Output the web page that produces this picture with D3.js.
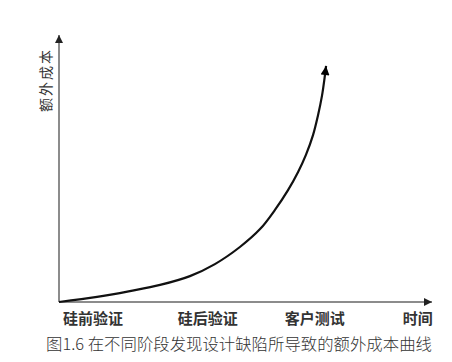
<!DOCTYPE html>
<html>
<head>
<meta charset="utf-8">
<script src="https://cdn.jsdelivr.net/npm/d3@7"></script>
<style>
  body { margin: 0; background: #fff; }
  svg { display: block; }
</style>
</head>
<body>
<svg></svg>
<script>
// 曲线数据 (时间, 额外成本), 单位 0-100
const timeVals = [0, 10.2, 19.0, 27.1, 35.1, 41.8, 48.5, 53.9, 57.9, 61.4, 64.1, 66.2, 68.1, 69.4, 70.5, 71.2, 71.6];
const costVals = [0, 1.9, 4.1, 6.4, 9.7, 14.2, 20.6, 27.3, 34.5, 41.9, 48.7, 55.1, 62.5, 69.7, 77.2, 83.9, 88.4];
const stageLabels = ["硅前验证", "硅后验证", "客户测试", "时间"];
const stagePos = [9.1, 39.9, 68.6, 96.2];
const yLabel = "额外成本";
const caption = "图1.6 在不同阶段发现设计缺陷所导致的额外成本曲线";

const width = 452;
const height = 362;
const margin = {top: 35, right: 20, bottom: 60, left: 59};

const svg = d3.select("svg")
              .attr("width", width)
              .attr("height", height);

const x = d3.scaleLinear()
            .domain([0, 100])
            .range([margin.left, width - margin.right]);

const y = d3.scaleLinear()
            .domain([0, 100])
            .range([height - margin.bottom, margin.top]);

const defs = svg.append("defs");
function marker(id, color, w, h) {
  defs.append("marker")
      .attr("id", id)
      .attr("viewBox", "0 0 10 10")
      .attr("refX", 10)
      .attr("refY", 5)
      .attr("markerWidth", w)
      .attr("markerHeight", h)
      .attr("markerUnits", "userSpaceOnUse")
      .attr("orient", "auto")
      .append("path")
      .attr("d", "M0,0 L10,5 L0,10 Z")
      .attr("fill", color);
}
marker("arrAxis", "#222", 12, 8);
marker("arrCurve", "#000", 11, 9);

// 坐标轴
svg.append("line")
   .attr("x1", x(0)).attr("y1", y(0))
   .attr("x2", x(0)).attr("y2", y(100))
   .attr("stroke", "#666")
   .attr("stroke-width", 1.5)
   .attr("marker-end", "url(#arrAxis)");

svg.append("line")
   .attr("x1", x(0)).attr("y1", y(0))
   .attr("x2", x(100)).attr("y2", y(0))
   .attr("stroke", "#666")
   .attr("stroke-width", 1.5)
   .attr("marker-end", "url(#arrAxis)");

// 曲线
const pts = timeVals.map((t, i) => [t, costVals[i]]);
const line = d3.line()
               .x(d => x(d[0]))
               .y(d => y(d[1]))
               .curve(d3.curveCatmullRom.alpha(0.5));

svg.append("path")
   .datum(pts)
   .attr("d", line)
   .attr("fill", "none")
   .attr("stroke", "#111")
   .attr("stroke-width", 2.2)
   .attr("marker-end", "url(#arrCurve)");

// 阶段标签
svg.append("g")
   .selectAll("text")
   .data(stageLabels)
   .enter()
   .append("text")
   .attr("x", (d, i) => x(stagePos[i]))
   .attr("y", y(0) + 22)
   .attr("text-anchor", "middle")
   .style("font-family", "'Noto Sans CJK SC', sans-serif")
   .style("font-size", "15px")
   .style("font-weight", "bold")
   .style("fill", "#333")
   .text(d => d);

// 纵轴标签
svg.append("text")
   .attr("transform", "translate(" + 51 + "," + 80 + ") rotate(-90)")
   .attr("text-anchor", "middle")
   .style("font-family", "'Noto Sans CJK SC', sans-serif")
   .style("font-size", "14px")
   .style("letter-spacing", "2px")
   .style("fill", "#333")
   .text(yLabel);

// 图注
svg.append("text")
   .attr("x", 239)
   .attr("y", 350)
   .attr("text-anchor", "middle")
   .style("font-family", "'Noto Sans CJK SC', sans-serif")
   .style("font-size", "16.4px")
   .style("font-weight", "300")
   .style("fill", "#333")
   .text(caption);
</script>
</body>
</html>
